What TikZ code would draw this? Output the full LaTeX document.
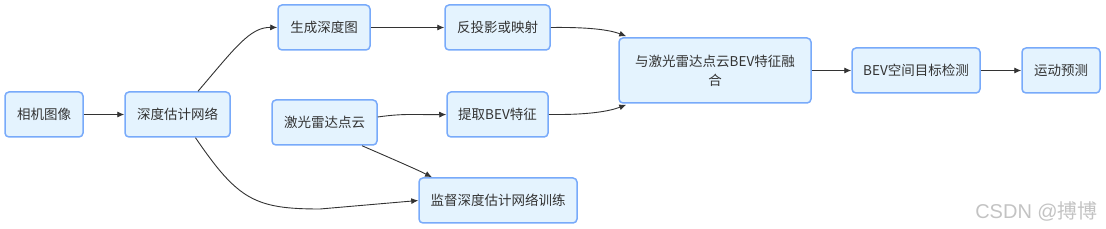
\documentclass[tikz,border=0pt]{standalone}
\usepackage{fontspec}
\newfontfamily\cjk{Noto Sans CJK SC}
\newfontfamily\wmfont{Liberation Sans}
\usetikzlibrary{arrows.meta,calc}
\definecolor{boxfill}{RGB}{228,243,254}
\definecolor{boxline}{RGB}{120,170,250}
\definecolor{edgecol}{RGB}{51,51,51}
\definecolor{wmark}{RGB}{195,195,195}
\tikzset{
  box/.style={draw=boxline, fill=boxfill, line width=1.5pt, rounded corners=4pt,
    inner sep=0pt, align=center, text=black!80,
    font=\cjk\fontsize{13.5}{19}\selectfont},
  conn/.style={draw=edgecol, line width=0.9pt, -{Latex[length=7pt,width=6pt]}}
}
\begin{document}
\begin{tikzpicture}[x=1pt,y=-1pt]
\useasboundingbox (0,0) rectangle (1106,229);
\node[box, minimum width=78pt, minimum height=45pt] (a) at (44,114.5) {相机图像};
\node[box, minimum width=105pt, minimum height=45pt] (b) at (177.5,114.5) {深度估计网络};
\node[box, minimum width=92pt, minimum height=45pt] (c) at (324,27.5) {生成深度图};
\node[box, minimum width=105pt, minimum height=45pt] (d) at (324.5,122.5) {激光雷达点云};
\node[box, minimum width=105pt, minimum height=45pt] (e) at (497.5,27.5) {反投影或映射};
\node[box, minimum width=101pt, minimum height=45pt] (f) at (497.5,114.5) {提取BEV特征};
\node[box, minimum width=158pt, minimum height=45pt] (g) at (498,200.5) {监督深度估计网络训练};
\node[box, minimum width=192pt, minimum height=65pt] (h) at (715,70.5) {与激光雷达点云BEV特征融\\合};
\node[box, minimum width=128pt, minimum height=45pt] (i) at (916,70.5) {BEV空间目标检测};
\node[box, minimum width=78pt, minimum height=45pt] (j) at (1061,70.5) {运动预测};

\draw[conn] (a) -- (b);
\draw[conn] ($(b.north)+(20.5,0)$) .. controls (235,48) and (250,27) .. (c.west);
\draw[conn] ($(b.south)+(18,0)$) .. controls (238,200) and (255,209) .. (320,209) -- (g.west);
\draw[conn] (c) -- (e);
\draw[conn] ($(d.east)+(0,-5.5)$) .. controls (405,113) and (420,115) .. (f.west);
\draw[conn] ($(d.south)+(37.5,0)$) .. controls (395,160) and (420,171) .. ($(g.north)+(-66,0)$);
\draw[conn] (e.east) .. controls (590,27) and (610,30) .. ($(h.north west)+(8,-1)$);
\draw[conn] (f.east) .. controls (590,115) and (610,111) .. ($(h.south west)+(8,1)$);
\draw[conn] (h) -- (i);
\draw[conn] (i) -- (j);

\node[anchor=east, text=wmark, font=\wmfont\fontsize{20}{22}\selectfont, inner sep=0pt] (wm) at (1098,211) {CSDN @{\cjk 搏博}};
\end{tikzpicture}
\end{document}
